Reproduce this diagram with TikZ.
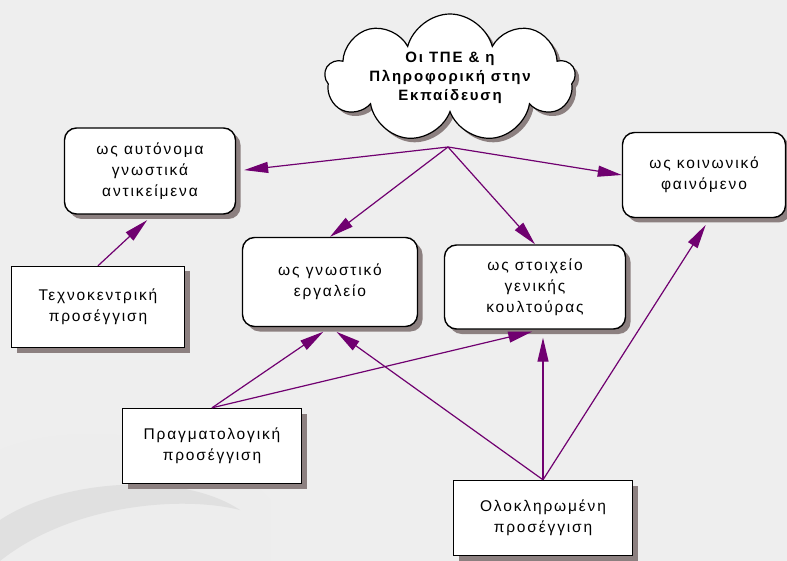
\documentclass[tikz,border=0pt]{standalone}
\usepackage{fontspec}
\setmainfont{Liberation Sans}[LetterSpace=12]
\usetikzlibrary{arrows.meta,shapes.symbols,shadows}

\definecolor{arrowpurple}{RGB}{112,0,112}
\definecolor{shadowgray}{RGB}{140,128,128}
\definecolor{bggray}{RGB}{238,238,238}

\begin{document}
\begin{tikzpicture}[x=1pt, y=-1pt,
		box/.style={draw, line width=1.4pt, fill=white, align=center, inner sep=0pt,
			font=\fontsize{15.5}{21}\selectfont,
			drop shadow={shadow xshift=5pt, shadow yshift=-5pt, fill=shadowgray, opacity=1}},
		roundbox/.style={box, rounded corners=12pt},
		link/.style={draw=arrowpurple, line width=1.2pt, -{Triangle[length=24pt, width=11pt]}}]
		
		\useasboundingbox (0,0) rectangle (787,561);
		\fill[bggray] (0,0) rectangle (787,561);
		
		% faded picture in the corner
		\fill[black!7] (0,450) .. controls (70,420) and (210,430) .. (270,500) -- (270,561) -- (0,561) -- cycle;
		\fill[black!12] (0,520) .. controls (60,480) and (180,470) .. (240,510) .. controls (180,495) and (70,505) .. (0,561) -- cycle;
		
		% Cloud
		\node[cloud, cloud puffs=9, cloud ignores aspect, draw, line width=1.2pt, fill=white, align=center,
			minimum width=250pt, minimum height=128pt, inner sep=-6pt,
			font=\bfseries\fontsize{15}{19}\selectfont,
			drop shadow={shadow xshift=4pt, shadow yshift=-4pt, fill=shadowgray, opacity=1}]
			(ict) at (450,78) {Οι ΤΠΕ \& η\\Πληροφορική στην\\Εκπαίδευση};
		\coordinate (hub) at (448,147);
		
		% Row 1: the four views
		\node[roundbox, minimum width=171pt, minimum height=86pt] (autonomous) at (150,171) {ως αυτόνομα\\γνωστικά\\αντικείμενα};
		\node[roundbox, minimum width=175pt, minimum height=89pt] (tool) at (330,282) {ως γνωστικό\\εργαλείο};
		\node[roundbox, minimum width=181pt, minimum height=84pt] (culture) at (535,287) {ως στοιχείο\\γενικής\\κουλτούρας};
		\node[roundbox, minimum width=163pt, minimum height=85pt] (social) at (704,175) {ως κοινωνικό\\φαινόμενο};
		
		% Row 2: the approaches
		\node[box, minimum width=173pt, minimum height=81pt] (techno) at (98,307) {Τεχνοκεντρική\\προσέγγιση};
		\node[box, minimum width=179pt, minimum height=75pt] (pragma) at (212,446) {Πραγματολογική\\προσέγγιση};
		\node[box, minimum width=179pt, minimum height=75pt] (holistic) at (543,518) {Ολοκληρωμένη\\προσέγγιση};
		
		% from the cloud
		\draw[link, shorten >=8pt] (hub) -- (autonomous.east);
		\draw[link] (hub) -- (tool.north);
		\draw[link] (hub) -- (culture.north);
		\draw[link] (hub) -- (social.west);
		
		% from the approaches
		\draw[link, shorten >=8pt] (techno.north) -- ([xshift=3pt]autonomous.south);
		\draw[link, shorten >=8pt] (pragma.north) -- (tool.south);
		\draw[link, shorten >=8pt] (pragma.north) -- ([xshift=5pt]culture.south);
		\draw[link, shorten >=8pt] (holistic.north) -- (tool.south);
		\draw[link, shorten >=8pt] (holistic.north) -- (holistic.north |- culture.south);
		\draw[link, shorten >=8pt] (holistic.north) -- ([xshift=6pt]social.south);
		
	\end{tikzpicture}
\end{document}
